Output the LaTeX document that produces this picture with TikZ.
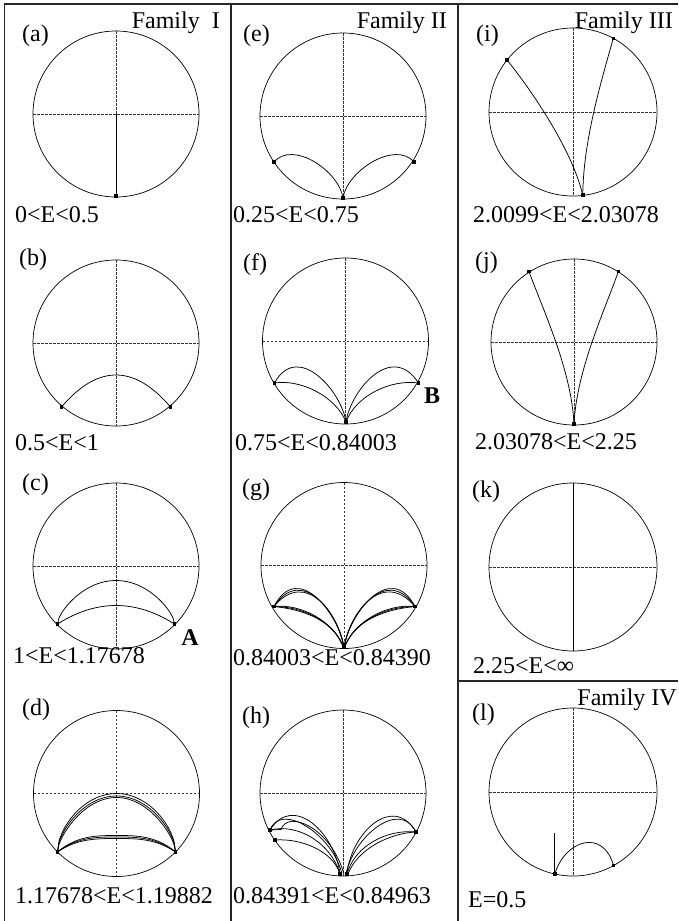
\documentclass[tikz,border=0pt]{standalone}
\usepackage{fontspec}
\setmainfont{Liberation Serif}
\newcommand\myring[1]{\draw[rim] (0,0) circle[radius=#1pt]; \draw[axis] (-#1,0) -- (#1,0) (0,-#1) -- (0,#1);}
\newcommand\orbpt[1]{\fill (#1) ++(-1.7,-1.7) rectangle ++(3.4,3.4);}
\begin{document}
\begin{tikzpicture}[x=1pt,y=-1pt,
  frame/.style={line width=1.1pt, black!85},
  rim/.style={line width=0.7pt},
  axis/.style={line width=0.55pt, dash pattern=on 2.5pt off 1.5pt, black!80},
  orb/.style={line width=0.75pt},
  txt/.style={inner sep=0pt, font=\fontsize{24}{28}\selectfont},
  tag/.style={txt, anchor=base west},
  fam/.style={txt, anchor=base east},
  rng/.style={txt, anchor=base west},
  pname/.style={txt, anchor=base, font=\fontsize{24}{28}\selectfont\bfseries},
  declare function={ell(\t)=1-sqrt(max(0,1-\t*\t));}
]
\useasboundingbox (0,0) rectangle (678,921);
\fill[white] (0,0) rectangle (678,921);

% frame lines
\draw[frame] (4.5,921) -- (4.5,4) -- (678,4);
\draw[frame] (231,4) -- (231,921);
\draw[frame] (458,4) -- (458,921);
\draw[frame] (458,681) -- (678,681);

% ---------- Family I ----------
\node[fam] (f1) at (220,28) {Family\hspace{12pt}I};
% (a)
\begin{scope}[shift={(116,114)}]
\myring{83}
\draw[orb] (0,0) -- (0,83);
\orbpt{0,82}
\end{scope}
\node[tag] (la) at (22,41) {(a)};
\node[rng] (ra) at (15,222) {0<E<0.5};
% (b)
\begin{scope}[shift={(116,343)}]
\myring{83}
\draw[orb] plot[domain=-54.5:54.5, samples=61, smooth] (\x,{32+32*(\x/54.5)*(\x/54.5)});
\orbpt{-54.5,64}
\orbpt{54.5,64}
\end{scope}
\node[tag] (lb) at (19,265) {(b)};
\node[rng] (rb) at (15,450) {0.5<E<1};
% (c)
\begin{scope}[shift={(116,566)}]
\myring{83}
\draw[orb] plot[domain=-58.5:58.5, samples=81, smooth] (\x,{14.5+43.5*(0.5*(\x/58.5)*(\x/58.5)+0.5*ell(\x/58.5))});
\draw[orb] plot[domain=-58.5:58.5, samples=61, smooth] (\x,{39.5+18.5*(\x/58.5)*(\x/58.5)});
\orbpt{-58.5,58}
\orbpt{58.5,58}
\end{scope}
\node[tag] (lc) at (22,490) {(c)};
\node[rng] (rc) at (13,663) {1<E<1.17678};
\node[pname] (pA) at (190,645) {A};
% (d)
\begin{scope}[shift={(116.5,793.5)}]
\myring{83}
\foreach \a/\w in {0/0.25, 2.5/0.35, 4/0.5}{
  \draw[orb] plot[domain=-59:59, samples=81, smooth] (\x,{\a+(58.5-\a)*(\w*(\x/59)*(\x/59)+(1-\w)*ell(\x/59))});
}
\foreach \a in {42,43.5,45}{
  \draw[orb] plot[domain=-59:59, samples=61, smooth] (\x,{\a+(58.5-\a)*pow(abs(\x/59),3)});
}
\orbpt{-59,58.5}
\orbpt{59,58.5}
\end{scope}
\node[tag] (ld) at (22,715) {(d)};
\node[rng] (rd) at (15,903) {1.17678<E<1.19882};

% ---------- Family II ----------
\node[fam] (f2) at (447,28) {Family II};
% (e)
\begin{scope}[shift={(343,116)}]
\myring{83}
\draw[orb] (-69,46) .. controls (-50,24) and (-4,55) .. (0,82);
\draw[orb] (71,46) .. controls (52,24) and (4,55) .. (0,82);
\orbpt{-69,46}
\orbpt{71,46}
\orbpt{0,82}
\end{scope}
\node[tag] (le) at (243,41) {(e)};
\node[rng] (re) at (233,222) {0.25<E<0.75};
% (f)
\begin{scope}[shift={(345.5,341)}]
\myring{83}
\draw[orb] (-71,42) .. controls (-48,0) and (-4,50) .. (0.5,81);
\draw[orb] (-71,42) .. controls (-45,38) and (-10,55) .. (0.5,81);
\draw[orb] (73,42) .. controls (46,0) and (5,50) .. (0.5,81);
\draw[orb] (73,42) .. controls (45,38) and (10,55) .. (0.5,81);
\orbpt{-71,42}
\orbpt{73,42}
\orbpt{0.5,81}
\end{scope}
\node[tag] (lf) at (243,270) {(f)};
\node[rng] (rf) at (235,450) {0.75<E<0.84003};
\node[pname] (pB) at (432,403) {B};
% (g)
\begin{scope}[shift={(344,565.5)}]
\myring{83}
\foreach \p/\q in {-46/-6, -42/-2, -38/2}{
  \draw[orb] (-70,41) .. controls (\p,\q) and (-4,50) .. (0,83);
  \draw[orb] (71,41) .. controls ({-\p},\q) and (4,50) .. (0,83);
}
\foreach \p/\q in {-44/38, -42/41, -40/44}{
  \draw[orb] (-70,41) .. controls (\p,\q) and (-10,55) .. (0,83);
  \draw[orb] (71,41) .. controls ({-\p},\q) and (10,55) .. (0,83);
}
\orbpt{-70,41}
\orbpt{71,41}
\orbpt{0,82}
\end{scope}
\node[tag] (lg) at (242,495) {(g)};
\node[rng] (rg) at (233,665) {0.84003<E<0.84390};
% (h)
\begin{scope}[shift={(343,793)}]
\myring{83}
\draw[orb] (-73,37) .. controls (-50,0) and (-8,40) .. (-3,81);
\draw[orb] (-73,37) .. controls (-62,8) and (-10,42) .. (-1,81);
\draw[orb] (-73,37) -- (-62,36.5) .. controls (-55,16) and (-12,35) .. (1,81);
\draw[orb] (-73,37) .. controls (-45,30) and (-12,50) .. (-3,81);
\draw[orb] (-68,47) .. controls (-42,45) and (-10,58) .. (-3,81);
\draw[orb] (4,81) .. controls (8,40) and (50,0) .. (73,39);
\draw[orb] (3,81) .. controls (10,45) and (56,5) .. (73,39);
\draw[orb] (4,81) .. controls (12,52) and (45,36) .. (73,39);
\draw[orb] (5,81) .. controls (15,55) and (48,40) .. (73,39);
\orbpt{-73,37}
\orbpt{-68,47}
\orbpt{73,39}
\orbpt{-3,81}
\orbpt{4,81}
\end{scope}
\node[tag] (lh) at (242,723) {(h)};
\node[rng] (rh) at (233,903) {0.84391<E<0.84963};

% ---------- Family III ----------
\node[fam] (f3) at (673,28) {Family III};
% (i)
\begin{scope}[shift={(573,112)}]
\myring{84}
\draw[orb] (-66,-52) .. controls (-40,-20) and (0,40) .. (9.8,83.4);
\draw[orb] (40.3,-73.7) .. controls (28,-30) and (10,30) .. (9.8,83.4);
\orbpt{-66,-52}
\orbpt{40.3,-73.7}
\orbpt{9.8,83}
\end{scope}
\node[tag] (li) at (476,41) {(i)};
\node[rng] (ri) at (473,222) {2.0099<E<2.03078};
% (j)
\begin{scope}[shift={(574,342)}]
\myring{83}
\draw[orb] (-45,-70.3) .. controls (-30,-30) and (-2,30) .. (0,83);
\draw[orb] (44.3,-70.3) .. controls (30,-30) and (2,30) .. (0,83);
\orbpt{-45,-70.3}
\orbpt{44.3,-70.3}
\orbpt{0,82}
\end{scope}
\node[tag] (lj) at (475,268) {(j)};
\node[rng] (rj) at (475,449) {2.03078<E<2.25};
% (k)
\begin{scope}[shift={(573,567)}]
\myring{84}
\draw[orb] (0,-84) -- (0,84);
\end{scope}
\node[tag] (lk) at (472,497) {(k)};
\node[rng] (rk) at (473,673) {2.25<E<∞};

% ---------- Family IV ----------
\node[fam] (f4) at (677,705) {Family IV};
% (l)
\begin{scope}[shift={(573,792)}]
\myring{84}
\draw[orb] (-18.2,82) -- (-18.2,41);
\draw[orb] (-18.2,82) .. controls (-8,48) and (30,36) .. (40.5,73.5);
\orbpt{-18.2,82}
\orbpt{40.5,73.5}
\end{scope}
\node[tag] (ll) at (472,720) {(l)};
\node[rng] (rl) at (468,907) {E=0.5};
\end{tikzpicture}
\end{document}
